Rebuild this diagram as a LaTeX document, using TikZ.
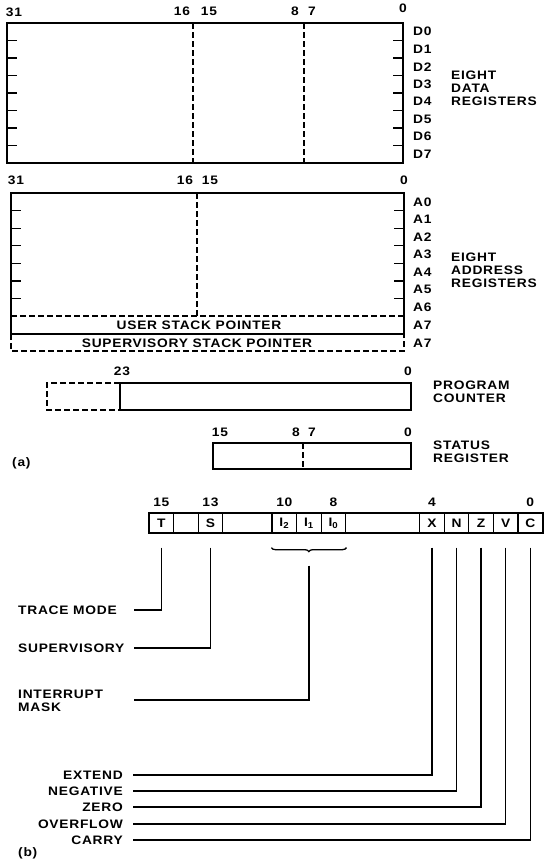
\documentclass[tikz,border=0pt]{standalone}
\usepackage{fontspec}
\setmainfont{Liberation Sans}[FakeStretch=1.12, LetterSpace=6]
\usetikzlibrary{positioning, decorations.pathreplacing}

\begin{document}
\begin{tikzpicture}[
  x=1pt, y=-1pt,
  font=\fontsize{12.3}{13}\selectfont\bfseries,
  reg/.style={line width=1.3pt},
  dsh/.style={line width=1.2pt, dash pattern=on 6pt off 3pt},
  num/.style={inner sep=0pt, anchor=base},
  lbl/.style={inner sep=0pt, anchor=west, align=left},
  rlbl/.style={inner sep=0pt, anchor=east},
  cell/.style={draw, line width=1.3pt, minimum width=24.6pt, minimum height=20pt, inner sep=0pt},
  lead/.style={line width=1.3pt}
]
\useasboundingbox (0,0) rectangle (550,860);

% (a) data registers
\draw[reg] (7,23) rectangle (403,163);
\foreach \i in {1,...,7} {
  \draw[reg] (7,{23+17.5*\i}) -- +(10,0);
  \draw[reg] (403,{23+17.5*\i}) -- +(-10,0);
}
\draw[dsh] (193,23) -- (193,163);
\draw[dsh] (304,23) -- (304,163);
\node[num] (d31) at (14,16) {31};
\node[num] (d16) at (182,15) {16};
\node[num] (d15) at (209,15) {15};
\node[num] (d8) at (295,15) {8};
\node[num] (d7) at (312,15) {7};
\node[num] (d0) at (403,12) {0};
\foreach \k in {0,...,7}
  \node[lbl] (D\k) at (413,{31.75+17.5*\k}) {D\k};
\node[lbl] (dregs) at (451,88) {EIGHT\\DATA\\REGISTERS};

% address registers
\draw[reg] (11,193) rectangle (404,334);
\foreach \i in {1,...,6} {
  \draw[reg] (11,{193+17.6*\i}) -- +(10,0);
  \draw[reg] (404,{193+17.6*\i}) -- +(-10,0);
}
\draw[dsh] (197,193) -- (197,316);
\draw[dsh] (11,316) -- (404,316);
\draw[dsh] (11,334) -- (11,351) -- (404,351) -- (404,334);
\node (usp) at (199,325) {USER STACK POINTER};
\node (ssp) at (197,343) {SUPERVISORY STACK POINTER};
\node[num] (a31) at (16,184) {31};
\node[num] (a16) at (185,184) {16};
\node[num] (a15) at (210,184) {15};
\node[num] (a0) at (404,184) {0};
\foreach \k in {0,...,7}
  \node[lbl] (A\k) at (413,{201.8+17.6*\k}) {A\k};
\node[lbl] (A7s) at (413,343) {A7};
\node[lbl] (aregs) at (451,270) {EIGHT\\ADDRESS\\REGISTERS};

% program counter
\draw[dsh] (120,383) -- (47,383) -- (47,410) -- (120,410);
\draw[reg] (120,383) rectangle (411,410);
\node[num] (p23) at (122,375) {23};
\node[num] (p0) at (408,375) {0};
\node[lbl] (pc) at (433,392) {PROGRAM\\COUNTER};

% status register
\draw[reg] (213,443) rectangle (411,469);
\draw[dsh] (303,443) -- (303,469);
\node[num] (s15) at (220,436) {15};
\node[num] (s8) at (296,436) {8};
\node[num] (s7) at (312,436) {7};
\node[num] (s0) at (408,436) {0};
\node[lbl] (sr) at (433,452) {STATUS\\REGISTER};
\node[lbl] (parta) at (12,463) {(a)};

% (b) status register bits
\draw[reg] (149,513) rectangle (543,533);
\foreach \b/\t/\n in {15/T/T, 13/S/S, 10/{I\textsubscript{2}}/I2, 9/{I\textsubscript{1}}/I1,
                      8/{I\textsubscript{0}}/I0, 4/X/X, 3/N/N, 2/Z/Z, 1/V/V, 0/C/C}
  \node[cell] (c\n) at ({149+24.6*(15-\b)+12.3},523) {\t};
\node[inner sep=0pt, above=6pt of cT] (b15) {15};
\node[inner sep=0pt, above=6pt of cS] (b13) {13};
\node[inner sep=0pt, above=6pt of cI2] (b10) {10};
\node[inner sep=0pt, above=6pt of cI0] (b8) {8};
\node[inner sep=0pt, above=6pt of cX] (b4) {4};
\node[inner sep=0pt, above=6pt of cC] (b0) {0};

\draw[lead, decorate, decoration={brace, mirror, amplitude=4pt}]
  ([yshift=-14pt]cI2.south west) -- ([yshift=-14pt]cI0.south east);

\node[lbl] (lTM) at (18,610) {TRACE MODE};
\node[lbl] (lSV) at (18,648) {SUPERVISORY};
\node[lbl] (lIM) at (18,701) {INTERRUPT\\MASK};
\coordinate (eTM) at (134,610);
\coordinate (eSV) at (134,648);
\coordinate (eIM) at (134,700);
\draw[lead] ([yshift=-14pt]cT.south) |- (eTM);
\draw[lead] ([yshift=-14pt]cS.south) |- (eSV);
\draw[lead] ([yshift=-32pt]cI1.south) |- (eIM);

\foreach \c/\n/\y/\t in {X/EX/775/EXTEND, N/NE/791/NEGATIVE, Z/ZE/807/ZERO,
                         V/OV/824/OVERFLOW, C/CA/840/CARRY} {
  \node[rlbl] (l\n) at (123,\y) {\t};
  \draw[lead] ([yshift=-14pt]c\c.south) |- ([xshift=10pt]l\n.east);
}
\node[lbl] (partb) at (18,853) {(b)};
\end{tikzpicture}
\end{document}
